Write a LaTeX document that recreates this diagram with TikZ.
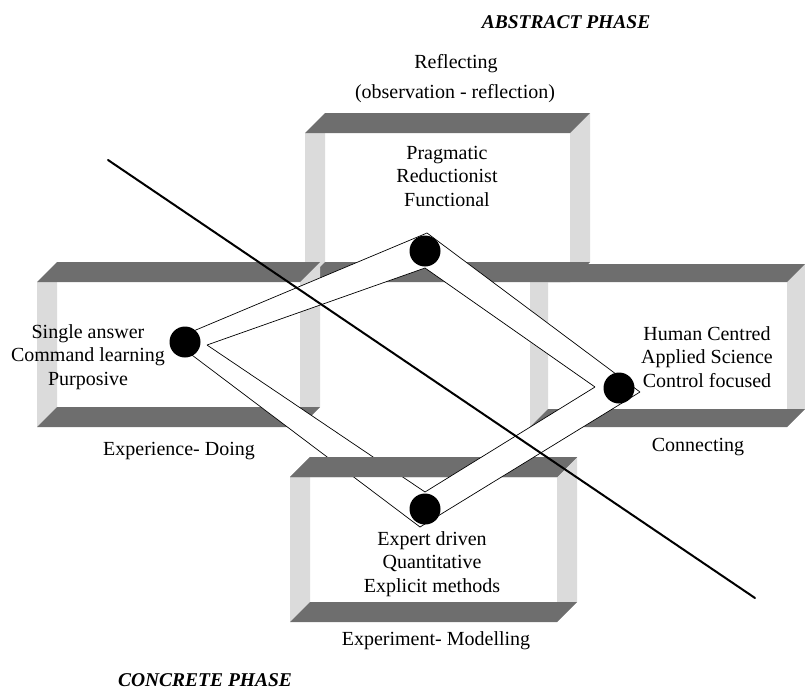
\documentclass[tikz,border=0pt]{standalone}
\usepackage{fontspec}
\setmainfont{Liberation Serif}
\usetikzlibrary{positioning}
\definecolor{slabgray}{gray}{0.43}
\definecolor{wallgray}{gray}{0.86}
\tikzset
{
    slab/.style = {fill=slabgray, draw=none},
    wall/.style = {fill=wallgray, draw=none},
    ribbon/.style = {fill=white, draw=none},
    ribbonedge/.style = {draw=black, line width=0.7pt},
    stagedot/.style = {circle, fill=black, minimum size=31pt, inner sep=0pt},
    boxtext/.style = {align=center, font=\fontsize{20}{23.5}\selectfont},
    phasetext/.style = {font=\fontsize{19.5}{23}\selectfont\bfseries\itshape},
    divider/.style = {line width=2pt, line cap=round}
}
% open box: left x, top y, right x, bottom y, depth
\newcommand{\phasebox}[5]{%
  \fill[wall] (#1,#2) -- (#1+#5,#2) -- (#1+#5,#4-#5) -- (#1,#4) -- cycle;
  \fill[wall] (#3,#2) -- (#3+#5,#2-#5) -- (#3+#5,#4-#5) -- (#3,#4) -- cycle;
  \fill[slab] (#1,#4) -- (#3,#4) -- (#3+#5,#4-#5) -- (#1+#5,#4-#5) -- cycle;
  \fill[slab] (#1,#2) -- (#3,#2) -- (#3+#5,#2-#5) -- (#1+#5,#2-#5) -- cycle;
}

\begin{document}
\begin{tikzpicture}[x=1pt, y=-1pt]
\useasboundingbox (0,0) rectangle (805,691);

% the four boxes
\phasebox{305}{133}{570}{282}{20}
\phasebox{37}{282}{300}{427}{20}
\phasebox{530}{282}{787}{427}{18}
\phasebox{290}{477}{557}{622}{20}

% corners of the cycle band
\coordinate (To) at (427,233);
\coordinate (Lo) at (172,340);
\coordinate (Bo) at (420,527);
\coordinate (Ro) at (640,392);
\coordinate (Ti) at (425,268);
\coordinate (Li) at (207,345);
\coordinate (Bi) at (425,492);
\coordinate (Ri) at (595,387);

% band from left to bottom runs under the lid of the bottom box
\fill[ribbon] (Lo) -- (Bo) -- (Bi) -- (Li) -- cycle;
\draw[ribbonedge] (Lo) -- (Bo) (Li) -- (Bi);
\fill[slab] (290,477) -- (557,477) -- (577,457) -- (310,457) -- cycle;

\fill[ribbon] (To) -- (Lo) -- (Li) -- (Ti) -- cycle;
\draw[ribbonedge] (To) -- (Lo) (Ti) -- (Li);
\fill[ribbon] (To) -- (Ro) -- (Ri) -- (Ti) -- cycle;
\draw[ribbonedge] (To) -- (Ro) (Ti) -- (Ri);
\fill[ribbon] (Bo) -- (Ro) -- (Ri) -- (Bi) -- cycle;
\draw[ribbonedge] (Bo) -- (Ro) (Bi) -- (Ri);

% dividing line
\coordinate (cutA) at (108,160);
\coordinate (cutB) at (755,598);
\draw[divider] (cutA) -- (cutB);

% stages
\node[stagedot] (reflecting) at (425,251) {};
\node[stagedot] (doing) at (185,342) {};
\node[stagedot] (connecting) at (619,388) {};
\node[stagedot] (modelling) at (425,509) {};

% texts
\node[phasetext] (abstract) at (566,22) {ABSTRACT PHASE};
\node[phasetext] (concrete) at (205,680) {CONCRETE PHASE};
\node[boxtext] (reflecttitle) at (456,64) {Reflecting};
\node[boxtext] (reflectnote) at (455,94) {(observation - reflection)};
\node[boxtext] (toptext) at (447,176) {Pragmatic\\Reductionist\\Functional};
\node[boxtext] (lefttext) at (88,357) {Single answer\\Command learning\\Purposive};
\node[boxtext] (righttext) at (707,357) {Human Centred\\Applied Science\\Control focused};
\node[boxtext] (bottomtext) at (432,564) {Expert driven\\Quantitative\\Explicit methods};
\node[boxtext] (doingtitle) at (179,451) {Experience- Doing};
\node[boxtext] (connecttitle) at (698,447) {Connecting};
\node[boxtext] (modeltitle) at (436,641) {Experiment- Modelling};
\end{tikzpicture}
\end{document}
